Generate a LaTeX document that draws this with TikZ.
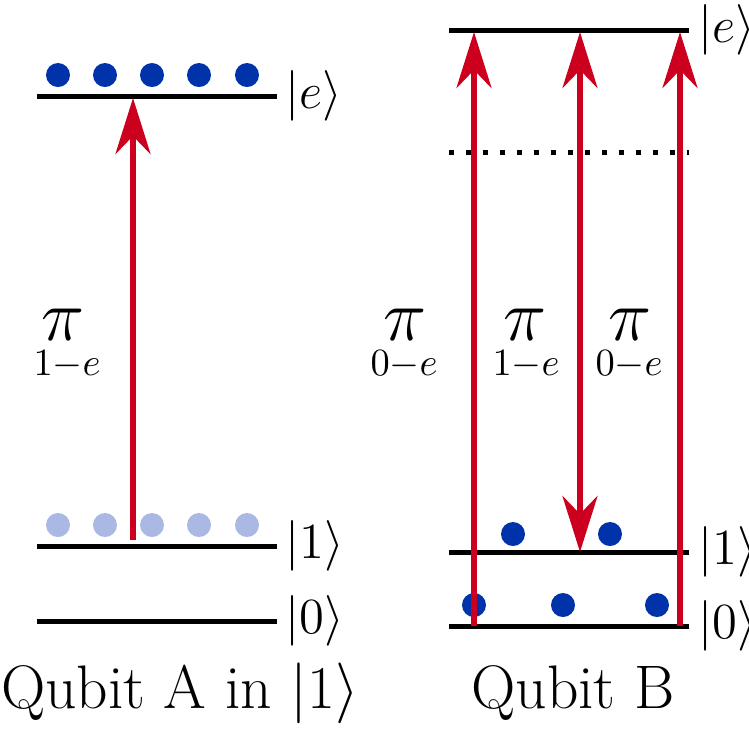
\documentclass[tikz,border=0pt]{standalone}
\usepackage{amsmath}
\usepackage{tikz}
\usetikzlibrary{arrows.meta}
\definecolor{arrred}{RGB}{204,0,30}
\definecolor{dotblue}{RGB}{0,51,170}
\definecolor{dotlight}{RGB}{170,185,228}
\tikzset{
  level/.style={line width=0.5mm,black},
  pulse/.style={line width=0.6mm,arrred,-{Stealth[length=5.6mm,width=3.5mm,inset=1.8mm]}},
  atom/.style={circle,fill=dotblue,minimum size=2.4mm,inner sep=0pt},
  atomlight/.style={atom,fill=dotlight},
  ket/.style={anchor=west,inner sep=0pt,font=\fontsize{14}{17}\selectfont},
  pilab/.style={inner sep=0pt,font=\fontsize{22}{26}\selectfont},
  sublab/.style={inner sep=0pt,font=\fontsize{16}{19}\selectfont},
  caption/.style={font=\fontsize{17.5}{21}\selectfont}
}
\begin{document}
\begin{tikzpicture}[x=0.1mm,y=-0.1mm]
  \useasboundingbox (0,0) rectangle (749,737);
  % Qubit A
  \coordinate (ae1) at (37,96); \coordinate (ae2) at (277,96);
  \coordinate (a11) at (37,546); \coordinate (a12) at (277,546);
  \coordinate (a01) at (37,621); \coordinate (a02) at (277,621);
  \draw[level] (ae1)--(ae2);
  \draw[level] (a11)--(a12);
  \draw[level] (a01)--(a02);
  \node[ket] at (285,96) {$|e\rangle$};
  \node[ket] at (285,546) {$|1\rangle$};
  \node[ket] at (285,621) {$|0\rangle$};
  \foreach \x in {58,105,152,199,247} {
    \node[atom] at (\x,75) {};
    \node[atomlight] at (\x,525) {};
  }
  \coordinate (as) at (133,540); \coordinate (at) at (133,98);
  \draw[pulse] (as)--(at);
  \node[pilab] (pa) at (63,325) {$\pi$};
  \node[sublab] (sa) at (68,365) {$_{1-e}$};
  \node[caption] (qa) at (180,693) {Qubit A in $|1\rangle$};
  % Qubit B
  \coordinate (be1) at (449,30); \coordinate (be2) at (689,30);
  \coordinate (bd1) at (449,152); \coordinate (bd2) at (689,152);
  \coordinate (b11) at (449,552); \coordinate (b12) at (689,552);
  \coordinate (b01) at (449,626); \coordinate (b02) at (689,626);
  \draw[level] (be1)--(be2);
  \draw[level,line cap=butt,dash pattern=on 0.5mm off 1.2mm] (bd1)--(bd2);
  \draw[level] (b11)--(b12);
  \draw[level] (b01)--(b02);
  \node[ket] at (698,30) {$|e\rangle$};
  \node[ket] at (698,552) {$|1\rangle$};
  \node[ket] at (698,626) {$|0\rangle$};
  \foreach \x in {513,610} \node[atom] at (\x,534) {};
  \foreach \x in {474,563,657} \node[atom] at (\x,605) {};
  \draw[pulse] (474,626)--(474,32);
  \draw[pulse,{Stealth[length=5.6mm,width=3.5mm,inset=1.8mm]}-{Stealth[length=5.6mm,width=3.5mm,inset=1.8mm]}] (580,32)--(580,552);
  \draw[pulse] (680,626)--(680,32);
  \node[pilab] (pb1) at (405,325) {$\pi$};
  \node[sublab] (sb1) at (405,365) {$_{0-e}$};
  \node[pilab] (pb2) at (525,325) {$\pi$};
  \node[sublab] (sb2) at (527,365) {$_{1-e}$};
  \node[pilab] (pb3) at (630,325) {$\pi$};
  \node[sublab] (sb3) at (630,365) {$_{0-e}$};
  \node[caption] (qb) at (573,693) {Qubit B};
\end{tikzpicture}
\end{document}
